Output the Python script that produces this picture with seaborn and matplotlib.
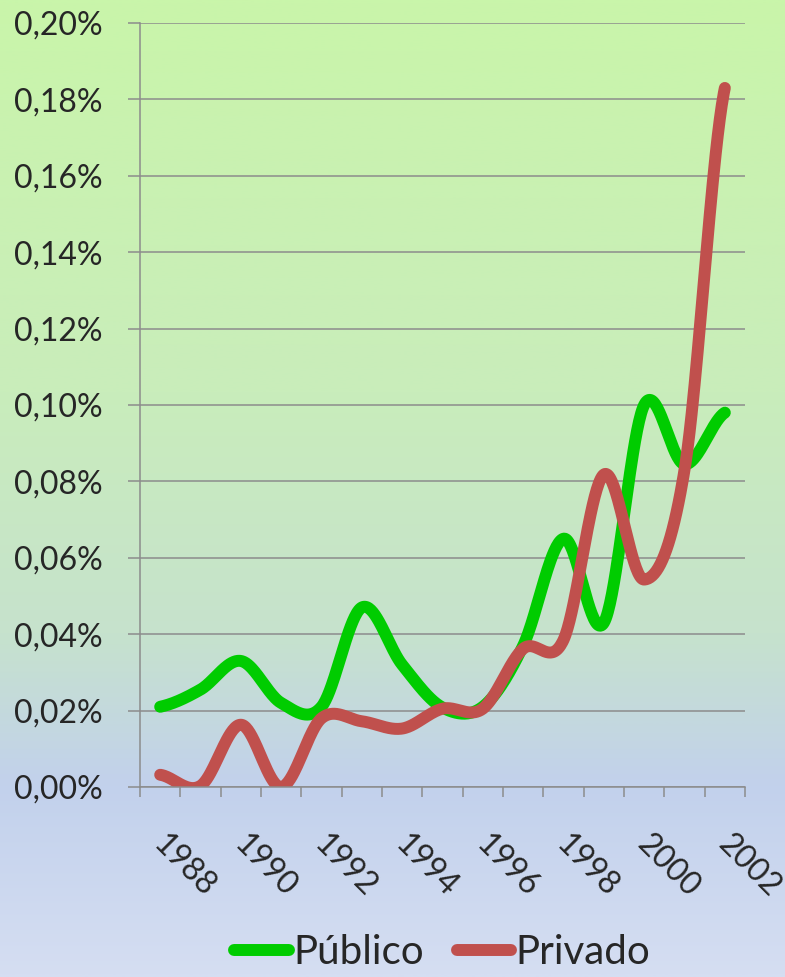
import numpy as np
import pandas as pd
import matplotlib
matplotlib.use("Agg")
import matplotlib.pyplot as plt
import seaborn as sns
from matplotlib.colors import LinearSegmentedColormap

# dados (em %)
anos = list(range(1988, 2003))
publico = [0.021, 0.0255, 0.033, 0.022, 0.021, 0.047, 0.032, 0.0208, 0.021,
           0.037, 0.065, 0.043, 0.100, 0.0845, 0.098]
privado = [0.0032, 0.0003, 0.0163, 0.000, 0.018, 0.0172, 0.0153, 0.0205, 0.0205,
           0.0362, 0.0385, 0.0818, 0.0543, 0.083, 0.183]
yticks = [0.00, 0.02, 0.04, 0.06, 0.08, 0.10, 0.12, 0.14, 0.16, 0.18, 0.20]
series = ['Público', 'Privado']
cores = {'Público': '#00cc00', 'Privado': '#c0504d'}

sns.set_style('white')
plt.rcParams['font.family'] = ['Lato', 'DejaVu Sans']
cinza = '#8c8c8c'


def suaviza(valores, n=40):
    # curva suave tipo Excel (bezier / catmull-rom) passando pelos pontos
    p = np.asarray(valores, float)
    ext = np.concatenate([[p[0]], p, [p[-1]]])
    t = np.linspace(0, 1, n, endpoint=False)
    xs, ys = [], []
    for i in range(len(p) - 1):
        p0, p1, p2, p3 = ext[i], ext[i + 1], ext[i + 2], ext[i + 3]
        c1 = p1 + (p2 - p0) / 6
        c2 = p2 - (p3 - p1) / 6
        y = (1 - t) ** 3 * p1 + 3 * (1 - t) ** 2 * t * c1 + 3 * (1 - t) * t ** 2 * c2 + t ** 3 * p2
        xs.extend(i + t)
        ys.extend(y)
    xs.append(len(p) - 1)
    ys.append(p[-1])
    return xs, ys


frames = []
for nome, vals in zip(series, [publico, privado]):
    xs, ys = suaviza(vals)
    frames.append(pd.DataFrame({'x': xs, 'y': ys, 'serie': nome}))
df = pd.concat(frames, ignore_index=True)

fig = plt.figure(figsize=(7.85, 9.77), dpi=100)

# fundo em degrade verde -> azul
bg = fig.add_axes([0, 0, 1, 1], zorder=-1)
cmap = LinearSegmentedColormap.from_list('fundo', [
    (0.0, (201/255, 245/255, 170/255)),
    (0.40, (201/255, 237/255, 187/255)),
    (0.65, (198/255, 226/255, 205/255)),
    (0.805, (194/255, 209/255, 236/255)),
    (1.0, (213/255, 222/255, 242/255))])
grad = np.linspace(0, 1, 500).reshape(-1, 1)
bg.imshow(grad, aspect='auto', cmap=cmap, extent=[0, 1, 0, 1], origin='upper')
bg.axis('off')

ax = fig.add_axes([140/785, 1 - 787/977, 605/785, 764/977], zorder=1)
ax.set_facecolor('none')

sns.lineplot(data=df, x='x', y='y', hue='serie', palette=cores, sort=False,
             estimator=None, lw=8.6, solid_capstyle='round', ax=ax)

ax.set_xlim(-0.5, 14.5)
ax.set_ylim(0, 0.20)
ax.set_yticks(yticks)
ax.set_yticklabels([f'{v:.2f}%'.replace('.', ',') for v in yticks], fontsize=23)
ax.set_xticks([])
ax.set_xticks(np.arange(-0.5, 15, 1), minor=True)
ax.set_xlabel('')
ax.set_ylabel('')
# rotulos dos anos (um sim, um nao), inclinados
for i, a in enumerate(anos):
    if i % 2 == 0:
        ax.annotate(str(a), xy=(i, 0), xycoords=('data', 'axes fraction'),
                    xytext=(6, -30), textcoords='offset points', fontsize=23,
                    rotation=-45, ha='left', va='top', rotation_mode='anchor')

ax.grid(axis='y', color=cinza, lw=1.1)
ax.grid(axis='x', visible=False)
ax.set_axisbelow(True)
for s in ['top', 'right']:
    ax.spines[s].set_visible(False)
for s in ['left', 'bottom']:
    ax.spines[s].set_color(cinza)
    ax.spines[s].set_linewidth(1.1)
ax.tick_params(axis='y', which='major', length=9, width=1.1, color=cinza, pad=18, left=True)
ax.tick_params(axis='x', which='minor', length=7.2, width=1.1, color=cinza, bottom=True)

sns.move_legend(ax, 'center', bbox_to_anchor=(0.5, -0.217), ncol=2, frameon=False,
                title=None, fontsize=29, handlelength=1.35, handletextpad=0.12,
                columnspacing=0.8)
for h in ax.get_legend().get_lines():
    h.set_linewidth(8.6)
    h.set_solid_capstyle('round')

fig.savefig('out.png', dpi=100)
